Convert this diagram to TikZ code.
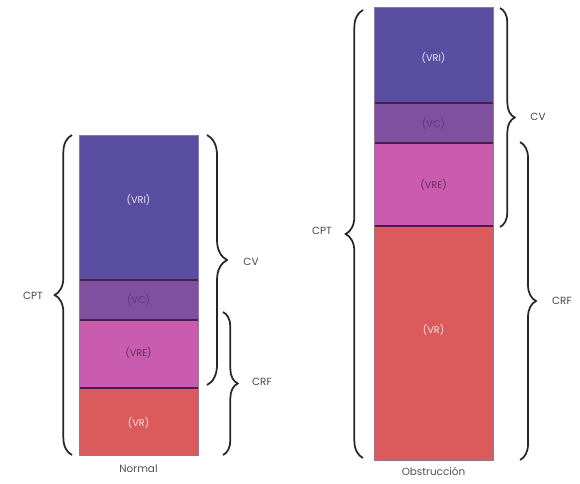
\documentclass[tikz,border=0pt]{standalone}
\usepackage{fontspec}
\setmainfont{Poppins}
\usetikzlibrary{decorations.pathreplacing}

\definecolor{cVRI}{HTML}{5A4EA2}
\definecolor{cVC}{HTML}{7E509F}
\definecolor{cVRE}{HTML}{C95CAE}
\definecolor{cVR}{HTML}{DB5A5C}
\definecolor{divider}{HTML}{4A1E45}
\definecolor{ink}{HTML}{262626}

\tikzset{
  seg/.style={draw=divider, line width=0.9pt},
  seglabel/.style={font=\fontsize{7.3}{9}\selectfont, inner sep=0pt},
  lightlabel/.style={seglabel, text=white!85!cVRI},
  darklabel/.style={seglabel, text=black!45!cVC},
  caption/.style={font=\fontsize{7.8}{9}\selectfont, text=ink!80, inner sep=0pt},
  bracelabel/.style={font=\fontsize{7.8}{9}\selectfont, text=ink!85, inner sep=0pt},
  bracket/.style={draw=ink, line width=1.3pt, decorate,
    decoration={brace, amplitude=#1}},
}

\begin{document}
\begin{tikzpicture}[x=0.75pt, y=-0.75pt]
\useasboundingbox (0,0) rectangle (580,483);

% ---------- Normal ----------
\fill[cVRI] (79,135) rectangle (198,280);
\fill[cVC]  (79,280) rectangle (198,320);
\fill[cVRE] (79,320) rectangle (198,388);
\fill[cVR]  (79,388) rectangle (198,455);
\draw[seg] (79,280) -- (198,280);
\draw[seg] (79,320) -- (198,320);
\draw[seg] (79,388) -- (198,388);
\draw[draw=divider!60, line width=0.4pt] (79,135) rectangle (198,455);

\node[lightlabel] (nvri) at (138.5,200) {(VRI)};
\node[darklabel, text=cVC!55!black, opacity=0.6] (nvc) at (138.5,300) {(VC)};
\node[darklabel, text=cVRE!50!black] (nvre) at (138.5,353) {(VRE)};
\node[lightlabel, text=white!85!cVR] (nvr) at (138.5,423) {(VR)};
\node[caption] (ncap) at (138.5,469) {Normal};

% braces
\coordinate (nCPTb) at (72,455);
\coordinate (nCPTt) at (72,135);
\draw[bracket=13pt] (nCPTb) -- (nCPTt);
\node[bracelabel] (ncpt) at (33,296) {CPT};

\coordinate (nCVt) at (207,135);
\coordinate (nCVb) at (207,385);
\draw[bracket=15pt] (nCVt) -- (nCVb);
\node[bracelabel] (ncv) at (251,262) {CV};

\coordinate (nCRFt) at (223,312);
\coordinate (nCRFb) at (223,455);
\draw[bracket=11pt] (nCRFt) -- (nCRFb);
\node[bracelabel] (ncrf) at (262,382) {CRF};

% ---------- Obstruccion ----------
\fill[cVRI] (374,7)   rectangle (493,103);
\fill[cVC]  (374,103) rectangle (493,143);
\fill[cVRE] (374,143) rectangle (493,226);
\fill[cVR]  (374,226) rectangle (493,460);
\draw[seg] (374,103) -- (493,103);
\draw[seg] (374,143) -- (493,143);
\draw[seg] (374,226) -- (493,226);
\draw[draw=divider!60, line width=0.4pt] (374,7) rectangle (493,460);

\node[lightlabel] (ovri) at (433.5,58) {(VRI)};
\node[darklabel, text=cVC!55!black, opacity=0.6] (ovc) at (433.5,124) {(VC)};
\node[darklabel, text=cVRE!50!black] (ovre) at (433.5,185) {(VRE)};
\node[lightlabel, text=white!85!cVR] (ovr) at (433.5,330) {(VR)};
\node[caption] (ocap) at (433.5,471) {Obstrucción};

\coordinate (oCPTb) at (363,458);
\coordinate (oCPTt) at (363,10);
\draw[bracket=13pt] (oCPTb) -- (oCPTt);
\node[bracelabel] (ocpt) at (322,231) {CPT};

\coordinate (oCVt) at (500,8);
\coordinate (oCVb) at (500,227);
\draw[bracket=11pt] (oCVt) -- (oCVb);
\node[bracelabel] (ocv) at (538,117) {CV};

\coordinate (oCRFt) at (520,142);
\coordinate (oCRFb) at (520,460);
\draw[bracket=12pt] (oCRFt) -- (oCRFb);
\node[bracelabel] (ocrf) at (562,301) {CRF};

\end{tikzpicture}
\end{document}
